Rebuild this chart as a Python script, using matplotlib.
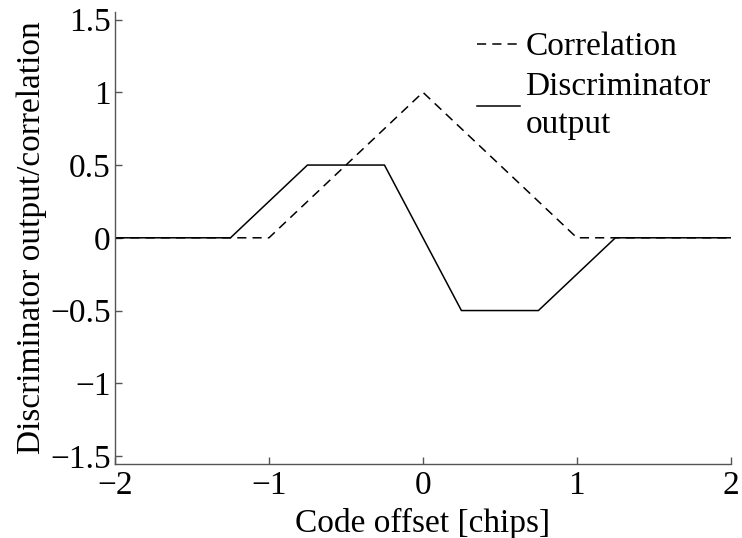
import matplotlib
matplotlib.use("Agg")
import matplotlib.pyplot as plt

# Data
corr_x = [-2, -1, 0, 1, 2]
corr_y = [0, 0, 1, 0, 0]
disc_x = [-2, -1.25, -0.75, -0.25, 0.25, 0.75, 1.25, 2]
disc_y = [0, 0, 0.5, 0.5, -0.5, -0.5, 0, 0]
xticks = [-2, -1, 0, 1, 2]
yticks = [-1.5, -1, -0.5, 0, 0.5, 1, 1.5]
xtick_labels = ["\u22122", "\u22121", "0", "1", "2"]
ytick_labels = ["\u22121.5", "\u22121", "\u22120.5", "0", "0.5", "1", "1.5"]

plt.rcParams['font.family'] = ['Liberation Serif', 'DejaVu Serif']
plt.rcParams['font.size'] = 24

fig = plt.figure(figsize=(7.42, 5.38), dpi=100)
ax = fig.add_axes([0.155, 0.138, 0.830, 0.840])

ax.plot(corr_x, corr_y, color='black', linestyle=(0, (6, 4)), linewidth=1.1, label='Correlation')
ax.plot(disc_x, disc_y, color='black', linestyle='-', linewidth=1.1, label='Discriminator\noutput')

ax.set_xlim(-2, 2)
ax.set_ylim(-1.553, 1.553)
ax.set_xticks(xticks)
ax.set_xticklabels(xtick_labels)
ax.set_yticks(yticks)
ax.set_yticklabels(ytick_labels)

for s in ['top', 'right']:
    ax.spines[s].set_visible(False)
for s in ['left', 'bottom']:
    ax.spines[s].set_color('#555555')
    ax.spines[s].set_linewidth(1.0)
ax.tick_params(direction='in', length=5, width=1.0, color='#555555', labelsize=24, pad=3)
ax.tick_params(axis='x', pad=5)

ax.set_xlabel('Code offset [chips]', fontsize=24, labelpad=5)
ax.set_ylabel('Discriminator output/correlation', fontsize=24, labelpad=2)

leg = ax.legend(loc='upper right', bbox_to_anchor=(1.0, 1.0), frameon=False,
                handlelength=1.3, handletextpad=0.15, labelspacing=0.28, borderaxespad=0.2,
                fontsize=24)
for t in leg.get_texts():
    t.set_linespacing(1.3)

fig.savefig('out.png', dpi=100)
